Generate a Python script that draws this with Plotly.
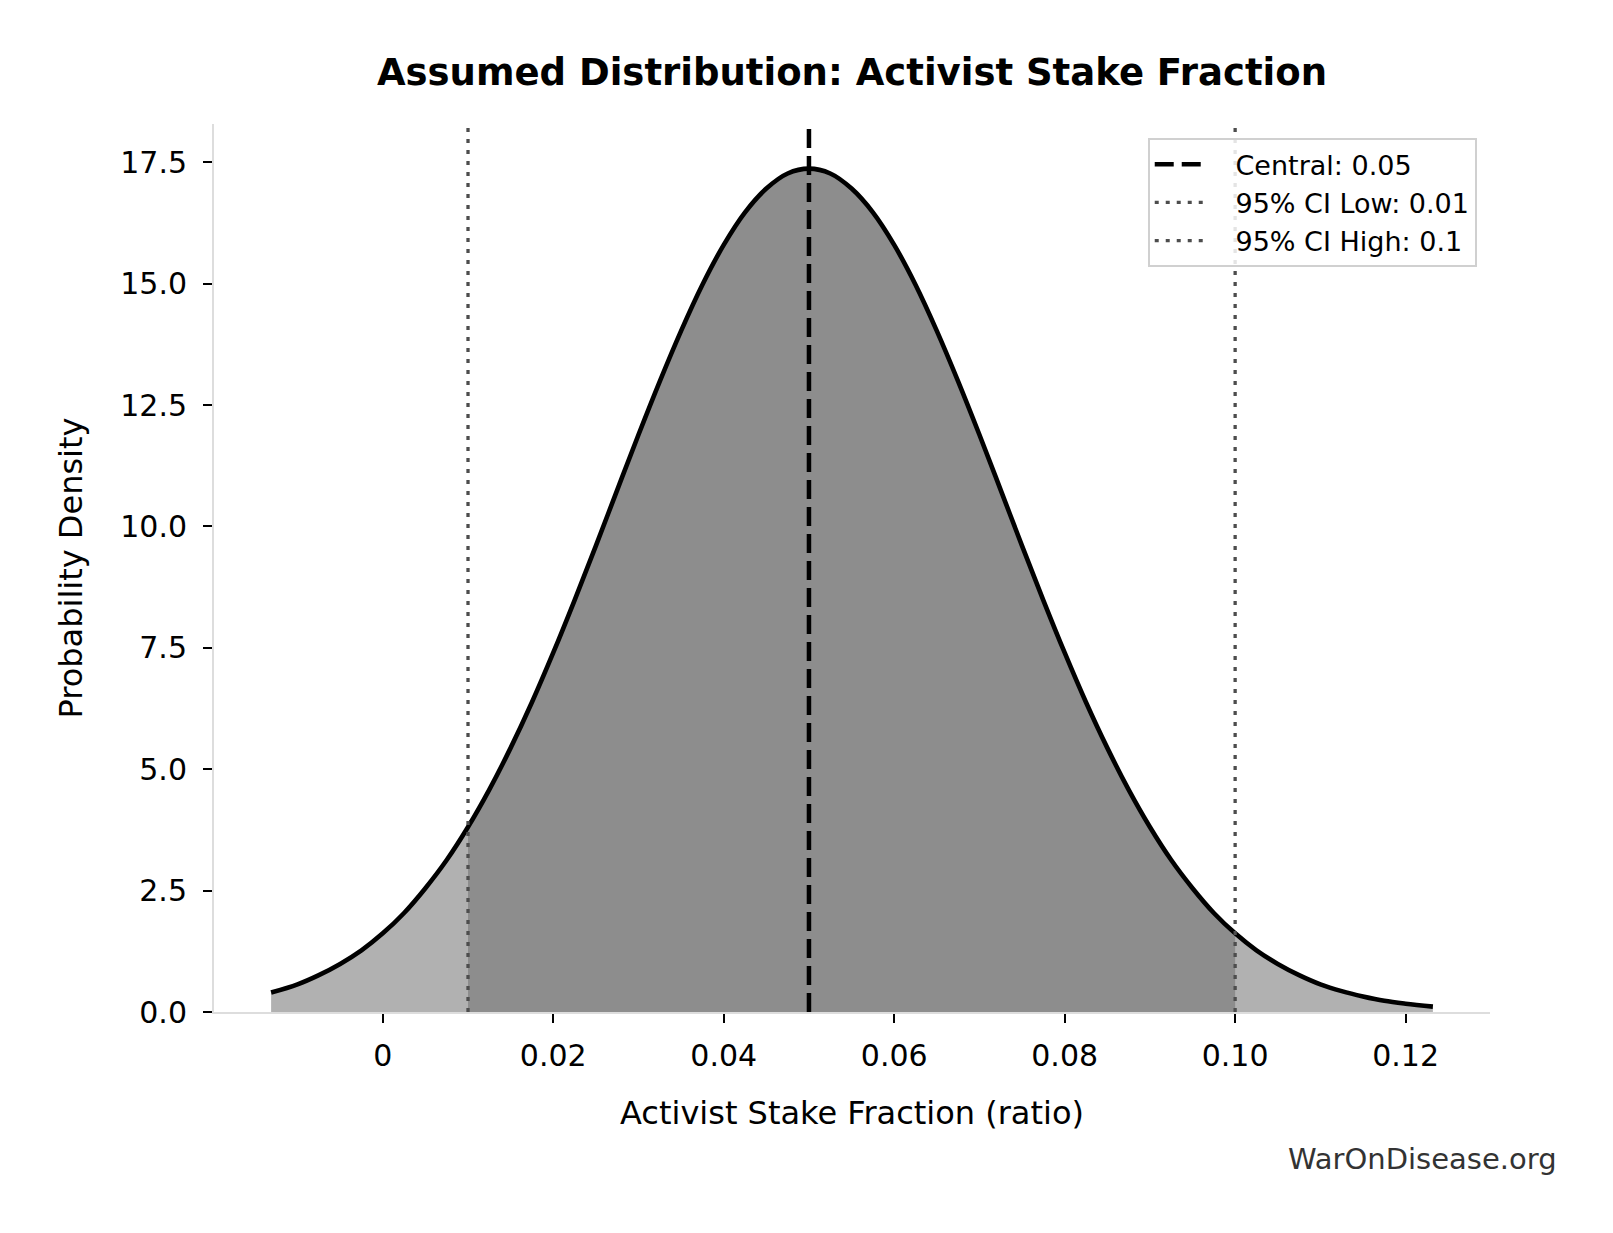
import plotly.graph_objects as go

# density curve
stake = [-0.0131, -0.01, -0.0075, -0.005, -0.0025, 0.0, 0.0025, 0.005, 0.0075,
         0.01, 0.0125, 0.015, 0.0175, 0.02, 0.0225, 0.025, 0.0275, 0.03,
         0.0325, 0.035, 0.0375, 0.04, 0.0425, 0.045, 0.0475, 0.05, 0.0525,
         0.055, 0.0575, 0.06, 0.0625, 0.065, 0.0675, 0.07, 0.0725, 0.075,
         0.0775, 0.08, 0.0825, 0.085, 0.0875, 0.09, 0.0925, 0.095, 0.0975,
         0.1, 0.1025, 0.105, 0.1075, 0.11, 0.1125, 0.115, 0.1175, 0.12, 0.1232]
density = [0.40, 0.57, 0.76, 0.99, 1.27, 1.62, 2.04, 2.55, 3.13,
           3.81, 4.58, 5.44, 6.38, 7.40, 8.48, 9.60, 10.75, 11.89,
           12.99, 14.03, 14.98, 15.80, 16.47, 16.96, 17.27, 17.37, 17.27,
           16.96, 16.47, 15.80, 14.98, 14.03, 12.99, 11.89, 10.75, 9.60,
           8.48, 7.40, 6.38, 5.44, 4.58, 3.81, 3.13, 2.55, 2.04,
           1.62, 1.27, 0.99, 0.76, 0.57, 0.43, 0.32, 0.23, 0.17, 0.11]

central = 0.05
ci_low = 0.01
ci_high = 0.1

xtick_vals = [0, 0.02, 0.04, 0.06, 0.08, 0.10, 0.12]
xtick_text = ["0", "0.02", "0.04", "0.06", "0.08", "0.10", "0.12"]
ytick_vals = [0, 2.5, 5, 7.5, 10, 12.5, 15, 17.5]

x_range = [-0.0198, 0.1299]
y_range = [0, 18.29]

font = "DejaVu Sans"
gap = "\u00a0\u00a0\u00a0"  # space between legend sample and label

# the part of the curve inside the 95% interval
ci_x = [v for v in stake if ci_low <= v <= ci_high]
ci_y = [d for v, d in zip(stake, density) if ci_low <= v <= ci_high]

fig = go.Figure()

# light fill under the whole curve
fig.add_trace(go.Scatter(x=stake, y=density, mode='lines', fill='tozeroy',
                         fillcolor='#b1b1b1', line=dict(width=0, shape='spline'),
                         showlegend=False, hoverinfo='skip'))
# darker fill for the interval
fig.add_trace(go.Scatter(x=ci_x, y=ci_y, mode='lines', fill='tozeroy',
                         fillcolor='#8d8d8d', line=dict(width=0, shape='spline'),
                         showlegend=False, hoverinfo='skip'))
# curve outline
fig.add_trace(go.Scatter(x=stake, y=density, mode='lines',
                         line=dict(color='black', width=4.6, shape='spline'),
                         showlegend=False, hoverinfo='skip'))

fig.add_trace(go.Scatter(x=[central, central], y=y_range, mode='lines',
                         name=gap + 'Central: 0.05',
                         line=dict(color='black', width=4.5, dash='19px,8px')))
fig.add_trace(go.Scatter(x=[ci_low, ci_low], y=y_range, mode='lines',
                         name=gap + '95% CI Low: 0.01',
                         line=dict(color='#4d4d4d', width=3.3, dash='4px,7px')))
fig.add_trace(go.Scatter(x=[ci_high, ci_high], y=y_range, mode='lines',
                         name=gap + '95% CI High: 0.1',
                         line=dict(color='#4d4d4d', width=3.3, dash='4px,7px')))

# page body has an 8px margin, so the figure is 16px smaller than the window
fig.update_layout(
    width=1597, height=1217, autosize=False,
    margin=dict(l=206, r=115, t=116, b=213),
    plot_bgcolor='white', paper_bgcolor='white',
    font=dict(family=font, size=30, color='black'),
    title=dict(text='Assumed Distribution: Activist Stake Fraction',
               x=0.5, xref='paper', xanchor='center',
               y=1 - 64 / 1217, yref='container', yanchor='middle',
               font=dict(family=font, size=37, color='black', weight='bold')),
    legend=dict(x=0.9896, xanchor='right', y=0.9839, yanchor='top',
                bgcolor='rgba(255,255,255,0.85)', bordercolor='#d0d0d0',
                borderwidth=2, itemwidth=50,
                font=dict(family=font, size=27, color='black')),
)

fig.update_xaxes(range=x_range, tickvals=xtick_vals, ticktext=xtick_text,
                 showgrid=False, zeroline=False, showline=True,
                 linecolor='#dddddd', linewidth=2,
                 ticks='outside', ticklen=9, tickwidth=2, tickcolor='black',
                 ticklabelstandoff=7,
                 tickfont=dict(family=font, size=30, color='black'),
                 title=dict(text='Activist Stake Fraction (ratio)', standoff=30,
                            font=dict(family=font, size=32, color='black')))
fig.update_yaxes(range=y_range, tickvals=ytick_vals, tickformat='.1f',
                 showgrid=False, zeroline=False, showline=True,
                 linecolor='#dddddd', linewidth=2,
                 ticks='outside', ticklen=9, tickwidth=2, tickcolor='black',
                 ticklabelstandoff=10,
                 tickfont=dict(family=font, size=30, color='black'),
                 title=dict(text='Probability Density', standoff=28,
                            font=dict(family=font, size=32, color='black')))

fig.add_annotation(text='WarOnDisease.org', xref='paper', yref='paper',
                   x=(1559 - 214) / 1276, xanchor='right',
                   y=(1011.5 - 1158) / 887.5, yanchor='middle',
                   showarrow=False,
                   font=dict(family=font, size=29, color='#333333'))

fig.write_html("out.html")
